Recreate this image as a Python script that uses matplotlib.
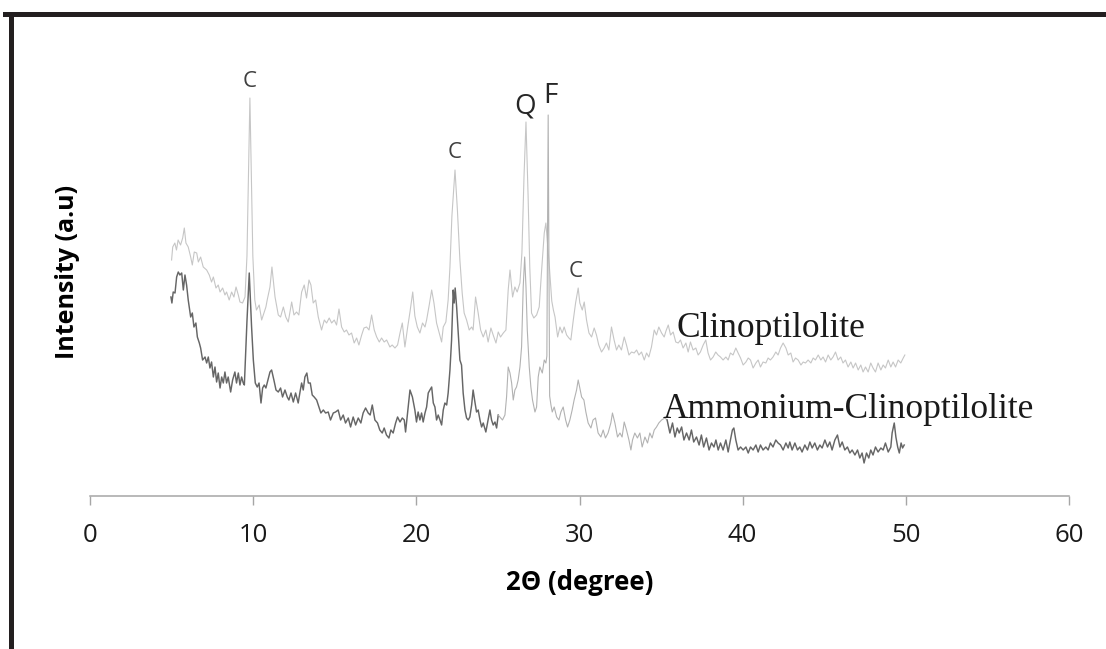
import matplotlib

matplotlib.use("Agg")
import matplotlib.pyplot as plt
import numpy as np
from matplotlib.lines import Line2D

# XRD patterns (2-theta in degrees, intensity in a.u.)
clino_2theta = [
    5.0, 5.07, 5.2, 5.3, 5.4, 5.55, 5.68, 5.78, 5.88, 6.02,
    6.17, 6.27, 6.39, 6.54, 6.64, 6.78, 6.94, 7.15, 7.31, 7.45,
    7.56, 7.72, 7.86, 7.97, 8.13, 8.27, 8.37, 8.53, 8.68, 8.82,
    8.95, 9.09, 9.19, 9.35, 9.5, 9.62, 9.72, 9.8, 9.88, 9.98,
    10.1, 10.2, 10.37, 10.52, 10.66, 10.78, 10.86, 11.03, 11.15, 11.34,
    11.54, 11.68, 11.85, 12.0, 12.15, 12.36, 12.5, 12.66, 12.8, 12.97,
    13.13, 13.27, 13.42, 13.54, 13.68, 13.83, 13.99, 14.19, 14.36, 14.5,
    14.66, 14.81, 14.97, 15.11, 15.26, 15.42, 15.58, 15.72, 15.87, 16.03,
    16.19, 16.34, 16.48, 16.65, 16.79, 16.95, 17.1, 17.26, 17.42, 17.57,
    17.73, 17.87, 18.03, 18.18, 18.38, 18.52, 18.69, 18.85, 19.0, 19.14,
    19.3, 19.47, 19.61, 19.78, 19.91, 20.06, 20.22, 20.38, 20.53, 20.63,
    20.79, 20.94, 21.08, 21.24, 21.4, 21.55, 21.65, 21.81, 21.95, 22.06,
    22.18, 22.37, 22.52, 22.67, 22.81, 22.93, 23.08, 23.24, 23.39, 23.48,
    23.63, 23.79, 23.94, 24.1, 24.26, 24.4, 24.57, 24.71, 24.88, 25.02,
    25.16, 25.33, 25.49, 25.63, 25.74, 25.9, 26.04, 26.18, 26.35, 26.47,
    26.6, 26.72, 26.85, 26.95, 27.06, 27.2, 27.37, 27.53, 27.68, 27.84,
    27.94, 28.05, 28.15, 28.3, 28.4, 28.5, 28.66, 28.8, 28.94, 29.06,
    29.21, 29.35, 29.47, 29.62, 29.76, 29.92, 30.02, 30.17, 30.29, 30.43,
    30.58, 30.74, 30.9, 31.04, 31.18, 31.35, 31.51, 31.65, 31.8, 31.96,
    32.12, 32.27, 32.41, 32.57, 32.74, 32.88, 33.03, 33.19, 33.35, 33.5,
    33.64, 33.8, 33.97, 34.11, 34.25, 34.41, 34.58, 34.72, 34.86, 35.03,
    35.19, 35.3, 35.44, 35.58, 35.74, 35.9, 36.05, 36.19, 36.35, 36.52,
    36.66, 36.8, 36.96, 37.13, 37.27, 37.41, 37.58, 37.74, 37.88, 38.03,
    38.19, 38.35, 38.49, 38.64, 38.8, 38.97, 39.11, 39.25, 39.41, 39.58,
    39.72, 39.87, 40.03, 40.2, 40.34, 40.48, 40.64, 40.81, 40.95, 41.09,
    41.25, 41.42, 41.56, 41.7, 41.86, 42.03, 42.17, 42.32, 42.48, 42.65,
    42.79, 42.95, 43.09, 43.24, 43.4, 43.57, 43.71, 43.85, 44.01, 44.18,
    44.32, 44.46, 44.63, 44.79, 44.93, 45.08, 45.24, 45.4, 45.54, 45.69,
    45.85, 46.01, 46.15, 46.3, 46.46, 46.63, 46.77, 46.92, 47.08, 47.24,
    47.38, 47.53, 47.69, 47.85, 47.99, 48.14, 48.3, 48.47, 48.61, 48.75,
    48.92, 49.08, 49.22, 49.37, 49.53, 49.69, 49.84, 49.94,
]
clino_intensity = [
    236, 249, 253, 246, 256, 251, 258, 268, 253, 249,
    239, 231, 244, 243, 234, 239, 229, 226, 221, 214,
    219, 208, 211, 204, 208, 201, 204, 196, 204, 199,
    209, 201, 194, 193, 199, 240, 330, 398, 330, 240,
    196, 186, 191, 176, 183, 189, 196, 209, 229, 199,
    181, 179, 189, 179, 174, 194, 181, 184, 181, 204,
    211, 198, 216, 211, 193, 196, 179, 166, 176, 173,
    178, 173, 176, 171, 187, 169, 164, 166, 161, 163,
    153, 158, 151, 161, 168, 169, 166, 181, 166, 159,
    154, 158, 154, 156, 149, 151, 148, 151, 163, 173,
    149, 169, 184, 204, 180, 169, 163, 173, 169, 176,
    191, 206, 193, 173, 163, 154, 169, 174, 196, 229,
    280, 326, 285, 236, 203, 183, 176, 166, 169, 166,
    199, 183, 166, 159, 166, 154, 168, 161, 153, 164,
    159, 163, 166, 206, 226, 199, 209, 204, 213, 243,
    320, 374, 300, 230, 183, 178, 181, 189, 226, 263,
    273, 250, 230, 195, 186, 179, 159, 169, 163, 169,
    161, 158, 156, 176, 193, 208, 193, 186, 194, 176,
    163, 159, 168, 161, 151, 144, 148, 153, 146, 169,
    156, 146, 151, 146, 159, 151, 141, 144, 143, 146,
    141, 144, 136, 143, 139, 149, 166, 161, 169, 163,
    159, 165, 171, 161, 164, 154, 153, 156, 148, 153,
    144, 154, 146, 148, 141, 144, 151, 156, 143, 136,
    139, 144, 141, 139, 136, 139, 136, 143, 141, 148,
    143, 138, 131, 134, 138, 136, 128, 133, 136, 129,
    134, 133, 138, 136, 139, 144, 141, 148, 153, 148,
    141, 143, 134, 138, 136, 131, 134, 133, 136, 133,
    138, 136, 141, 136, 139, 134, 141, 136, 139, 144,
    136, 139, 133, 136, 129, 134, 128, 133, 126, 131,
    124, 129, 124, 133, 128, 124, 133, 126, 131, 128,
    136, 129, 134, 129, 136, 133, 138, 141,
]

ammon_2theta = [
    4.96, 5.02, 5.1, 5.21, 5.31, 5.41, 5.51, 5.62, 5.72, 5.82,
    5.92, 6.02, 6.17, 6.27, 6.37, 6.49, 6.58, 6.7, 6.78, 6.9,
    7.05, 7.15, 7.25, 7.35, 7.45, 7.56, 7.66, 7.76, 7.86, 7.97,
    8.07, 8.17, 8.27, 8.37, 8.47, 8.62, 8.74, 8.88, 8.98, 9.09,
    9.19, 9.29, 9.39, 9.46, 9.62, 9.76, 9.9, 10.01, 10.13, 10.25,
    10.36, 10.48, 10.58, 10.68, 10.78, 10.86, 11.03, 11.13, 11.27, 11.4,
    11.54, 11.68, 11.8, 11.95, 12.09, 12.19, 12.32, 12.46, 12.6, 12.76,
    12.87, 12.97, 13.07, 13.17, 13.29, 13.38, 13.5, 13.62, 13.74, 13.89,
    14.03, 14.15, 14.3, 14.44, 14.6, 14.74, 14.91, 15.05, 15.21, 15.36,
    15.52, 15.66, 15.83, 15.97, 16.13, 16.28, 16.44, 16.6, 16.74, 16.89,
    17.05, 17.17, 17.3, 17.46, 17.62, 17.76, 17.91, 18.03, 18.17, 18.32,
    18.44, 18.58, 18.73, 18.85, 19.0, 19.14, 19.26, 19.34, 19.46, 19.61,
    19.76, 19.91, 20.01, 20.11, 20.22, 20.32, 20.42, 20.53, 20.63, 20.73,
    20.83, 20.94, 21.04, 21.14, 21.24, 21.34, 21.45, 21.55, 21.65, 21.75,
    21.86, 21.95, 22.06, 22.16, 22.26, 22.32, 22.38, 22.47, 22.57, 22.67,
    22.77, 22.87, 22.98, 23.08, 23.18, 23.28, 23.39, 23.48, 23.59, 23.69,
    23.79, 23.9, 24.0, 24.1, 24.26, 24.4, 24.51, 24.61, 24.71, 24.82,
    24.92, 25.02, 25.12, 25.28, 25.43, 25.53, 25.63, 25.74, 25.84, 25.94,
    26.04, 26.14, 26.24, 26.35, 26.45, 26.55, 26.64, 26.72, 26.8, 26.92,
    27.02, 27.12, 27.27, 27.37, 27.47, 27.57, 27.72, 27.84, 27.94, 28.0,
    28.08, 28.17, 28.25, 28.33, 28.45, 28.6, 28.74, 28.86, 29.0, 29.15,
    29.27, 29.41, 29.55, 29.67, 29.82, 29.92, 30.02, 30.13, 30.27, 30.39,
    30.53, 30.7, 30.83, 30.98, 31.14, 31.31, 31.45, 31.59, 31.75, 31.92,
    32.02, 32.17, 32.33, 32.48, 32.61, 32.74, 32.88, 33.03, 33.15, 33.25,
    33.39, 33.55, 33.7, 33.84, 34.01, 34.17, 34.31, 34.45, 34.58, 34.72,
    34.86, 35.03, 35.23, 35.37, 35.54, 35.7, 35.85, 35.99, 36.11, 36.26,
    36.4, 36.56, 36.72, 36.86, 37.0, 37.17, 37.33, 37.47, 37.61, 37.78,
    37.94, 38.09, 38.24, 38.36, 38.5, 38.64, 38.8, 38.97, 39.11, 39.25,
    39.37, 39.46, 39.58, 39.72, 39.87, 40.03, 40.2, 40.34, 40.48, 40.64,
    40.81, 40.95, 41.09, 41.25, 41.42, 41.56, 41.7, 41.86, 42.03, 42.17,
    42.32, 42.48, 42.65, 42.79, 42.89, 43.03, 43.2, 43.36, 43.5, 43.64,
    43.81, 43.97, 44.12, 44.26, 44.42, 44.58, 44.73, 44.87, 45.04, 45.2,
    45.34, 45.48, 45.65, 45.81, 45.96, 46.1, 46.26, 46.42, 46.57, 46.71,
    46.88, 47.04, 47.18, 47.32, 47.44, 47.59, 47.73, 47.85, 47.99, 48.14,
    48.3, 48.47, 48.61, 48.75, 48.92, 49.08, 49.16, 49.29, 49.39, 49.5,
    49.6, 49.71, 49.8, 49.9,
]
ammon_intensity = [
    199, 193, 204, 203, 219, 224, 221, 223, 206, 221,
    211, 196, 179, 183, 169, 173, 159, 153, 148, 136,
    139, 133, 139, 128, 134, 119, 129, 114, 123, 108,
    119, 113, 124, 113, 119, 104, 116, 124, 113, 123,
    111, 119, 113, 111, 175, 223, 170, 136, 113, 109,
    113, 93, 108, 111, 108, 113, 124, 126, 116, 106,
    104, 108, 99, 106, 99, 96, 103, 94, 103, 93,
    104, 113, 106, 119, 123, 113, 113, 101, 99, 96,
    89, 83, 86, 83, 84, 76, 83, 84, 86, 76,
    81, 73, 78, 69, 79, 71, 78, 73, 83, 88,
    83, 81, 91, 76, 73, 66, 63, 68, 61, 58,
    66, 63, 73, 79, 74, 78, 76, 64, 83, 106,
    99, 86, 74, 84, 76, 83, 74, 83, 89, 103,
    106, 109, 93, 89, 76, 81, 76, 71, 86, 93,
    91, 103, 126, 156, 206, 193, 208, 189, 163, 136,
    131, 103, 86, 78, 76, 79, 91, 106, 94, 84,
    86, 76, 69, 73, 64, 76, 86, 76, 71, 74,
    68, 81, 79, 76, 81, 99, 129, 123, 113, 96,
    106, 109, 116, 129, 149, 209, 239, 209, 166, 129,
    109, 96, 84, 89, 119, 129, 123, 136, 133, 140,
    381, 100, 91, 84, 89, 79, 76, 84, 89, 76,
    69, 76, 86, 96, 106, 116, 108, 99, 96, 84,
    73, 68, 76, 78, 63, 59, 66, 58, 63, 73,
    83, 73, 59, 63, 59, 74, 66, 56, 46, 56,
    63, 58, 63, 49, 59, 53, 63, 58, 66, 69,
    73, 76, 78, 76, 63, 73, 59, 68, 63, 69,
    56, 63, 56, 66, 54, 59, 51, 61, 49, 58,
    46, 53, 49, 56, 46, 53, 46, 56, 44, 56,
    66, 68, 56, 46, 49, 46, 49, 43, 49, 46,
    51, 44, 51, 46, 49, 46, 53, 49, 56, 53,
    51, 46, 53, 48, 54, 46, 53, 46, 49, 44,
    51, 46, 54, 48, 53, 46, 51, 48, 56, 49,
    54, 46, 56, 61, 49, 54, 46, 49, 43, 46,
    41, 46, 38, 43, 33, 43, 38, 46, 41, 49,
    44, 48, 46, 53, 44, 49, 63, 73, 59, 49,
    43, 53, 48, 51,
]

# peak labels: (text, 2-theta, intensity at label baseline)
peak_labels = ["C", "C", "Q", "F", "C"]
peak_label_2theta = [9.8, 22.37, 26.65, 28.19, 29.75]
peak_label_intensity = [409, 338, 383, 393, 219]

x_ticks = [0, 10, 20, 30, 40, 50, 60]

LIGHT = "#c6c6c6"
MID = "#b2b2b2"
DARK = "#666666"
AXIS_GREY = "#a6a6a6"

assert len(clino_2theta) == len(clino_intensity)
assert len(ammon_2theta) == len(ammon_intensity)

W, H = 1106, 649
fig = plt.figure(figsize=(W / 100, H / 100), dpi=100)
ax = fig.add_axes([90 / W, 1 - 496 / H, 979 / W, 450 / H])

cx = np.array(clino_2theta)
cy = np.array(clino_intensity)
ax.plot(cx, cy, color=LIGHT, lw=0.8, zorder=2)

# the ammonium trace is drawn lighter between ~25 and ~35 degrees in the original
ax_ = np.array(ammon_2theta)
ay = np.array(ammon_intensity)
i1 = np.searchsorted(ax_, 25.0)
i2 = np.searchsorted(ax_, 35.35)
ax.plot(ax_[: i1 + 1], ay[: i1 + 1], color=DARK, lw=1.05, zorder=3)
ax.plot(ax_[i1 : i2 + 1], ay[i1 : i2 + 1], color=MID, lw=0.8, zorder=3)
ax.plot(ax_[i2:], ay[i2:], color=DARK, lw=1.05, zorder=3)

for label, x, y in zip(peak_labels, peak_label_2theta, peak_label_intensity):
    big = label in ("Q", "F")
    ax.text(x, y, label, ha="center", va="baseline", family="Open Sans",
            fontsize=20 if big else 16, color="#262626" if big else "#3f3f3f")

ax.text(35.97, 159, "Clinoptilolite", family="Liberation Serif", fontsize=25.5,
        ha="left", va="baseline", color="#1a1a1a")
ax.text(35.11, 78, "Ammonium-Clinoptilolite", family="Liberation Serif", fontsize=25.5,
        ha="left", va="baseline", color="#1a1a1a")

ax.set_xlim(0, 60)
ax.set_ylim(0, 450)
ax.set_xticks(x_ticks)
ax.set_yticks([])
for side in ("left", "top", "right"):
    ax.spines[side].set_visible(False)
ax.spines["bottom"].set_color(AXIS_GREY)
ax.spines["bottom"].set_linewidth(1.1)
ax.tick_params(axis="x", direction="out", length=6.5, width=1.0, color=AXIS_GREY,
               labelsize=18.5, pad=13, labelcolor="#1a1a1a")
for t in ax.get_xticklabels():
    t.set_family("Open Sans")

ax.set_xlabel("2Θ (degree)", family="Open Sans", fontweight="bold", fontsize=18.5, va="center")
ax.xaxis.set_label_coords(0.5, -(582 - 496) / 450)
ax.set_ylabel("Intensity (a.u)", family="Open Sans", fontweight="bold", fontsize=18, va="center")
ax.yaxis.set_label_coords(-(90 - 68) / 979, (496 - 272) / 450)

# black frame on the top and left edges of the original image
fig.add_artist(Line2D([5 / W, 1], [1 - 13.5 / H] * 2, transform=fig.transFigure,
                      color="#231f20", lw=3.6))
fig.add_artist(Line2D([10.5 / W] * 2, [0, 1 - 13.5 / H], transform=fig.transFigure,
                      color="#231f20", lw=3.6))

fig.savefig("out.png", dpi=100, facecolor="white")
